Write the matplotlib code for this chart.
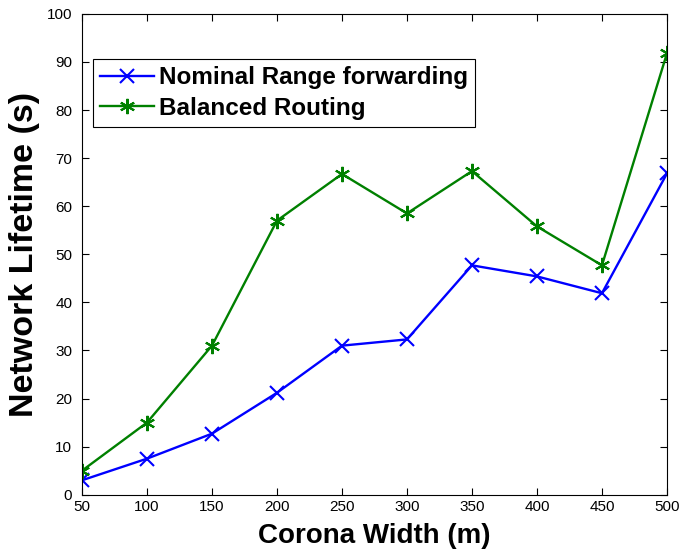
import matplotlib
matplotlib.use("Agg")
import matplotlib.pyplot as plt

# Data
corona_width = [50, 100, 150, 200, 250, 300, 350, 400, 450, 500]
nominal_range = [3.0, 7.5, 12.7, 21.2, 31.0, 32.3, 47.7, 45.4, 41.9, 66.8]
balanced_routing = [5.0, 15.0, 31.0, 57.0, 66.7, 58.5, 67.3, 55.8, 47.7, 91.8]
xticks = [50, 100, 150, 200, 250, 300, 350, 400, 450, 500]
yticks = [0, 10, 20, 30, 40, 50, 60, 70, 80, 90, 100]

plt.rcParams['font.family'] = ['Liberation Sans', 'DejaVu Sans']

fig = plt.figure(figsize=(6.89, 5.54), dpi=100)
ax = fig.add_axes([0.119, 0.107, 0.849, 0.868])

ax.plot(corona_width, nominal_range, color='#0000ff', marker='x',
        markersize=10, markeredgewidth=1.5, linewidth=1.7,
        label='Nominal Range forwarding')
ax.plot(corona_width, balanced_routing, color='#008000', marker=(6, 2, 0),
        markersize=11, markeredgewidth=1.5, linewidth=1.7,
        label='Balanced Routing')

ax.set_xlim(50, 500)
ax.set_ylim(0, 100)
ax.set_xticks(xticks)
ax.set_yticks(yticks)
ax.tick_params(direction='in', length=5, labelsize=11, top=True, right=True,
               width=0.8)
ax.tick_params(axis='y', pad=7)
ax.tick_params(axis='x', pad=4)
for s in ax.spines.values():
    s.set_linewidth(0.8)

ax.set_xlabel('Corona Width (m)', fontsize=20, fontweight='bold', labelpad=6)
ax.set_ylabel('Network Lifetime (s)', fontsize=24.5, fontweight='bold', labelpad=5)

leg = ax.legend(loc='upper left', bbox_to_anchor=(0.019, 0.906),
                prop={'size': 17.5, 'weight': 'bold'}, fancybox=False,
                framealpha=1, edgecolor='black', handlelength=2.2,
                borderpad=0.3, labelspacing=0.3, handletextpad=0.2,
                borderaxespad=0)
leg.get_frame().set_linewidth(0.8)

fig.savefig('out.png', dpi=100)
